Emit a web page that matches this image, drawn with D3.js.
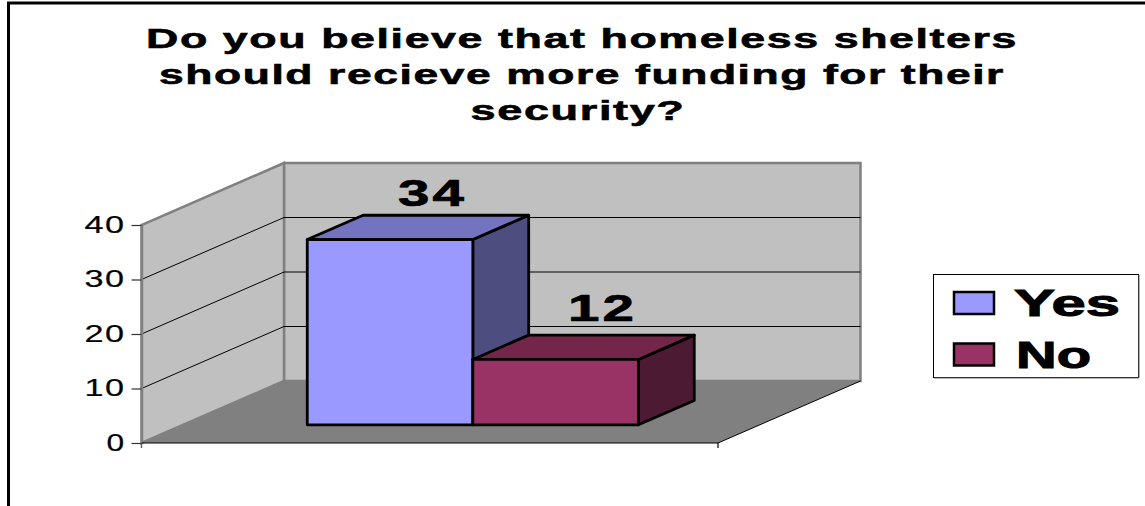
<!DOCTYPE html>
<html>
<head>
<meta charset="utf-8">
<script src="https://cdnjs.cloudflare.com/ajax/libs/d3/7.8.5/d3.min.js"></script>
<style>
html, body { margin: 0; padding: 0; background: #fff; }
svg { display: block; }
text { font-family: "Liberation Sans", Arial, sans-serif; fill: #000; }
</style>
</head>
<body>
<svg id="chart" width="1145" height="506"></svg>
<script>
// Survey responses
const seriesNames = ["Yes", "No"];
const seriesValues = [34, 12];
const titleLines = [
  "Do you believe that homeless shelters",
  "should recieve more funding for their",
  "security?"
];
const tickValues = [0, 10, 20, 30, 40];
const frontFaces = ["#9999ff", "#993366"];
const topFaces = ["#7373bf", "#732649"];
const sideFaces = ["#4d4d80", "#4c1a33"];

const svg = d3.select("#chart");

// Oblique projection: value height on the front plane, plus a depth in [0, 1]
const y = d3.scaleLinear().domain([0, 40]).range([443, 225]);
const floorX = d3.scaleLinear().domain([0, 1]).range([141.5, 718]);
const depthX = d3.scaleLinear().domain([0, 1]).range([0, 142.5]);
const depthY = d3.scaleLinear().domain([0, 1]).range([0, 62]);
const project = (fx, v, d) => [floorX(fx) + depthX(d), y(v) - depthY(d)];
const path = pts => "M" + pts.map(p => p.join(",")).join("L") + "Z";

// Outer chart frame, open on the right and the bottom
svg.append("path")
  .attr("d", "M8.5,506V3H1145")
  .attr("fill", "none").attr("stroke", "#000").attr("stroke-width", 3);

// Title
const titleX = [582, 582, 578];
const titleW = [872, 846, 215];
const titleY = [48, 84, 120];
svg.append("g").selectAll("text").data(titleLines).join("text")
  .attr("x", (d, i) => titleX[i]).attr("y", (d, i) => titleY[i])
  .attr("text-anchor", "middle")
  .attr("font-size", 28).attr("font-weight", "bold")
  .attr("letter-spacing", 1)
  .attr("stroke", "#000").attr("stroke-width", 0.6)
  .attr("textLength", (d, i) => titleW[i])
  .attr("lengthAdjust", "spacingAndGlyphs")
  .text(d => d);

// Walls and floor
const wall = svg.append("g");
wall.append("path")
  .attr("d", path([project(0, 0, 1), project(0, 40, 1), project(1, 40, 1), project(1, 0, 1)]))
  .attr("fill", "#c0c0c0").attr("stroke", "#808080").attr("stroke-width", 2.5);
wall.append("path")
  .attr("d", path([project(0, 0, 0), project(0, 40, 0), project(0, 40, 1), project(0, 0, 1)]))
  .attr("fill", "#c0c0c0").attr("stroke", "#808080").attr("stroke-width", 2.5);
wall.append("path")
  .attr("d", path([project(0, 0, 0), project(1, 0, 0), project(1, 0, 1), project(0, 0, 1)]))
  .attr("fill", "#808080");

// Gridlines run across the side wall and the back wall
const gridTicks = tickValues.filter(v => v > 0 && v < 40);
wall.selectAll("path.grid").data(gridTicks).join("path")
  .attr("class", "grid")
  .attr("d", v => "M" + project(0, v, 0) + "L" + project(0, v, 1) + "L" + project(1, v, 1))
  .attr("fill", "none").attr("stroke", "#000").attr("stroke-width", 1);

// Value axis
const axis = svg.append("g")
  .attr("transform", "translate(" + floorX(0) + ",0)")
  .call(d3.axisLeft(y).tickValues(tickValues).tickSize(10).tickSizeOuter(0).tickPadding(6));
axis.select(".domain").attr("stroke", "#808080").attr("stroke-width", 2.5);
axis.selectAll(".tick line").attr("stroke", "#333").attr("stroke-width", 1.2);
axis.selectAll(".tick text")
  .attr("font-family", '"Liberation Sans", Arial, sans-serif')
  .attr("font-size", 23)
  .attr("letter-spacing", 1)
  .attr("fill", "#000")
  .attr("stroke", "#000").attr("stroke-width", 0.2)
  .attr("textLength", v => v === 0 ? 19 : 41)
  .attr("lengthAdjust", "spacingAndGlyphs");
svg.append("path")
  .attr("d", "M" + floorX(0) + "," + y(0) + "v5")
  .attr("stroke", "#666").attr("stroke-width", 1.5);

// Baseline of the floor, with its end tick
svg.append("path")
  .attr("d", "M" + project(0, 0, 0) + "L" + project(1, 0, 0))
  .attr("stroke", "#000").attr("stroke-width", 1.2).attr("fill", "none");
svg.append("path")
  .attr("d", "M" + floorX(1) + "," + y(0) + "v5")
  .attr("stroke", "#000").attr("stroke-width", 1.2);
svg.append("path")
  .attr("d", "M" + project(1, 0, 0) + "L" + project(1, 0, 1))
  .attr("stroke", "#000").attr("stroke-width", 1).attr("fill", "none");

// Bars, positioned along the floor by a band scale
const band = d3.scaleBand().domain(seriesNames).range([0.2151, 0.7895]);
const frontDepth = 0.293;
const backDepth = 0.685;
const labelShiftX = [-13.5, -9];
const labelGap = [9, 14];
const bars = svg.append("g").selectAll("g")
  .data(seriesNames.map((name, i) => ({ name, value: seriesValues[i], i })))
  .join("g")
  .attr("stroke", "#000").attr("stroke-width", 2.8).attr("stroke-linejoin", "round");
bars.append("path")
  .attr("fill", d => sideFaces[d.i])
  .attr("d", d => {
    const x1 = band(d.name) + band.bandwidth();
    return path([project(x1, 0, frontDepth), project(x1, d.value, frontDepth), project(x1, d.value, backDepth), project(x1, 0, backDepth)]);
  });
bars.append("path")
  .attr("fill", d => topFaces[d.i])
  .attr("d", d => {
    const x0 = band(d.name), x1 = x0 + band.bandwidth();
    return path([project(x0, d.value, frontDepth), project(x1, d.value, frontDepth), project(x1, d.value, backDepth), project(x0, d.value, backDepth)]);
  });
bars.append("path")
  .attr("fill", d => frontFaces[d.i])
  .attr("d", d => {
    const x0 = band(d.name), x1 = x0 + band.bandwidth();
    return path([project(x0, 0, frontDepth), project(x1, 0, frontDepth), project(x1, d.value, frontDepth), project(x0, d.value, frontDepth)]);
  });

// Value labels above each bar
bars.append("text")
  .attr("stroke", "#000").attr("stroke-width", 0.7)
  .attr("x", d => project(band(d.name) + band.bandwidth() / 2, d.value, backDepth)[0] + labelShiftX[d.i])
  .attr("y", d => y(d.value) - depthY(backDepth) - labelGap[d.i])
  .attr("text-anchor", "middle")
  .attr("font-size", 37).attr("font-weight", "bold")
  .attr("letter-spacing", 2)
  .attr("textLength", 69)
  .attr("lengthAdjust", "spacingAndGlyphs")
  .text(d => d.value);

// Legend
const legend = svg.append("g");
legend.append("rect")
  .attr("x", 933.5).attr("y", 274.5).attr("width", 205).attr("height", 103)
  .attr("fill", "#fff").attr("stroke", "#000").attr("stroke-width", 1);
legend.append("path")
  .attr("d", "M1139,275V378H934")
  .attr("fill", "none").attr("stroke", "#666").attr("stroke-width", 1);
const legendRows = legend.selectAll("g").data(seriesNames).join("g");
const swatchY = [292, 343.5];
const textY = [316, 368];
const textW = [106, 75];
const textX = [1014, 1016];
legendRows.append("rect")
  .attr("x", 954).attr("y", (d, i) => swatchY[i])
  .attr("width", 40).attr("height", 22)
  .attr("fill", (d, i) => frontFaces[i])
  .attr("stroke", "#000").attr("stroke-width", 2.5);
legendRows.append("text")
  .attr("x", (d, i) => textX[i]).attr("y", (d, i) => textY[i])
  .attr("font-size", 37).attr("font-weight", "bold")
  .attr("stroke", "#000").attr("stroke-width", 1)
  .attr("textLength", (d, i) => textW[i])
  .attr("lengthAdjust", "spacingAndGlyphs")
  .text(d => d);
</script>
</body>
</html>
